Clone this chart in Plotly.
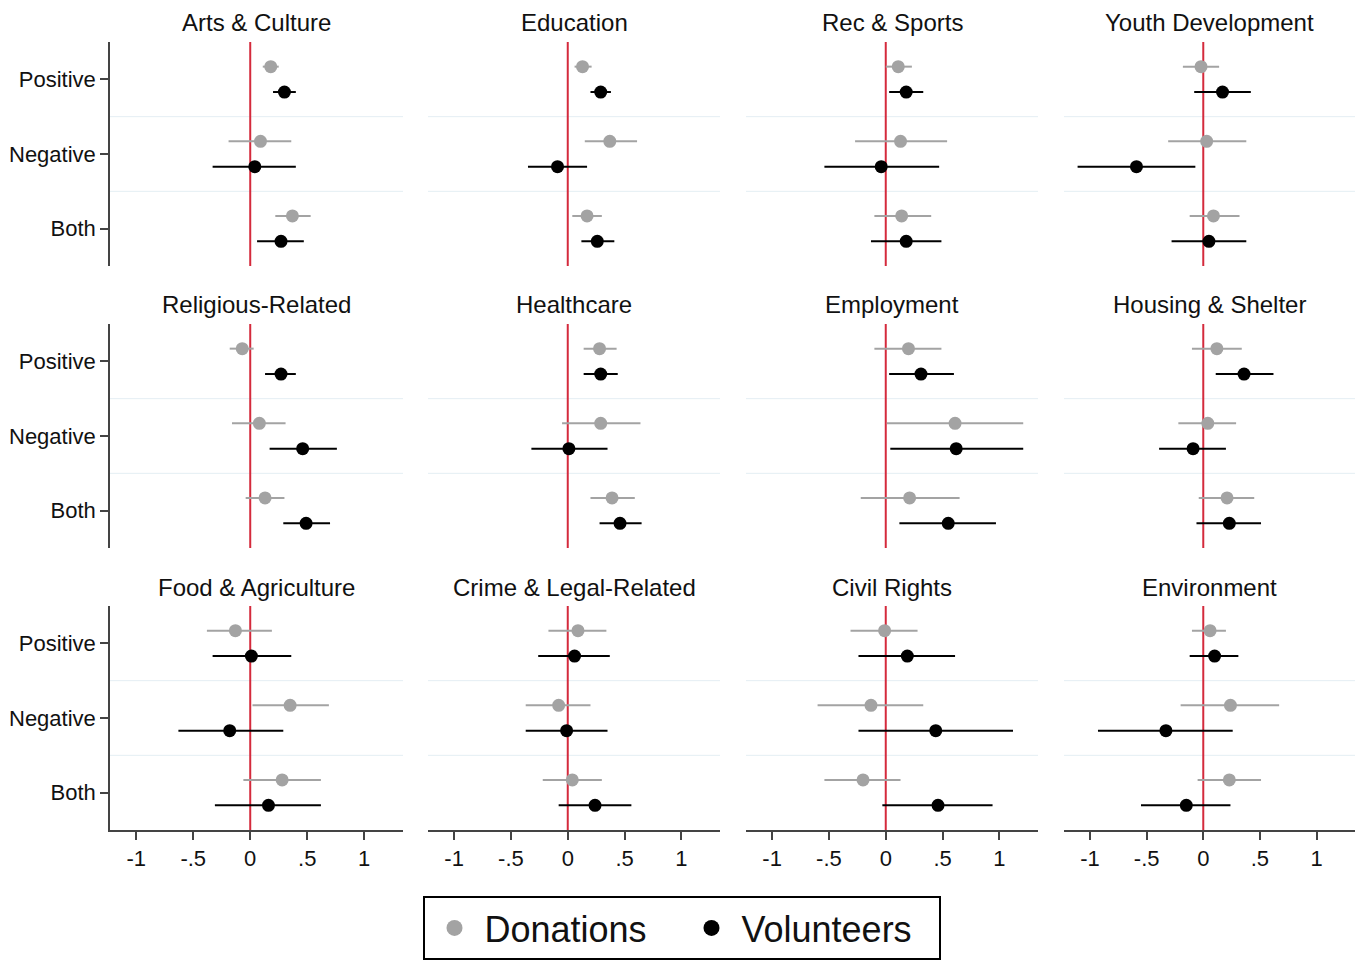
import plotly.graph_objects as go

panels = ["Arts & Culture", "Education", "Rec & Sports", "Youth Development",
          "Religious-Related", "Healthcare", "Employment", "Housing & Shelter",
          "Food & Agriculture", "Crime & Legal-Related", "Civil Rights", "Environment"]
groups = ["Positive", "Negative", "Both"]

don_est = [[0.18, 0.09, 0.37], [0.13, 0.37, 0.17], [0.11, 0.13, 0.14], [-0.02, 0.03, 0.09],
           [-0.07, 0.08, 0.13], [0.28, 0.29, 0.39], [0.20, 0.61, 0.21], [0.12, 0.04, 0.21],
           [-0.13, 0.35, 0.28], [0.09, -0.08, 0.04], [-0.01, -0.13, -0.20], [0.06, 0.24, 0.23]]
don_lo = [[0.11, -0.19, 0.22], [0.06, 0.15, 0.04], [0.00, -0.27, -0.10], [-0.18, -0.31, -0.12],
          [-0.18, -0.16, -0.04], [0.14, -0.05, 0.20], [-0.10, 0.01, -0.22], [-0.10, -0.22, -0.04],
          [-0.38, 0.02, -0.06], [-0.17, -0.37, -0.22], [-0.31, -0.60, -0.54], [-0.10, -0.20, -0.05]]
don_hi = [[0.25, 0.36, 0.53], [0.21, 0.61, 0.30], [0.23, 0.54, 0.40], [0.14, 0.38, 0.32],
          [0.03, 0.31, 0.30], [0.43, 0.64, 0.59], [0.49, 1.21, 0.65], [0.34, 0.29, 0.45],
          [0.19, 0.69, 0.62], [0.34, 0.20, 0.30], [0.28, 0.33, 0.13], [0.20, 0.67, 0.51]]
vol_est = [[0.30, 0.04, 0.27], [0.29, -0.09, 0.26], [0.18, -0.04, 0.18], [0.17, -0.59, 0.05],
           [0.27, 0.46, 0.49], [0.29, 0.01, 0.46], [0.31, 0.62, 0.55], [0.36, -0.09, 0.23],
           [0.01, -0.18, 0.16], [0.06, -0.01, 0.24], [0.19, 0.44, 0.46], [0.10, -0.33, -0.15]]
vol_lo = [[0.20, -0.33, 0.06], [0.20, -0.35, 0.12], [0.03, -0.54, -0.13], [-0.08, -1.11, -0.28],
          [0.13, 0.17, 0.29], [0.14, -0.32, 0.28], [0.03, 0.04, 0.12], [0.11, -0.39, -0.06],
          [-0.33, -0.63, -0.31], [-0.26, -0.37, -0.08], [-0.24, -0.24, -0.03], [-0.12, -0.93, -0.55]]
vol_hi = [[0.40, 0.40, 0.47], [0.38, 0.17, 0.41], [0.33, 0.47, 0.49], [0.42, -0.07, 0.38],
          [0.40, 0.76, 0.70], [0.44, 0.35, 0.65], [0.60, 1.21, 0.97], [0.62, 0.20, 0.51],
          [0.36, 0.29, 0.62], [0.37, 0.35, 0.56], [0.61, 1.12, 0.94], [0.31, 0.26, 0.24]]

x_tickvals = [-1, -0.5, 0, 0.5, 1]
x_ticktext = ["-1", "-.5", "0", ".5", "1"]

W, H = 1363, 960
col_px = [(110, 403), (428, 720), (746, 1038), (1064, 1355)]
row_px = [(42, 266), (324, 548), (606, 830)]
OFF = 0.17
GRAY = "#a3a3a3"
FONT = "Liberation Sans, Arial, sans-serif"

fig = go.Figure()
layout = {}
annotations = []
shapes = []

for i, name in enumerate(panels):
    r, c = divmod(i, 4)
    n = i + 1
    xa = "x" if n == 1 else f"x{n}"
    ya = "y" if n == 1 else f"y{n}"
    xkey = "xaxis" if n == 1 else f"xaxis{n}"
    ykey = "yaxis" if n == 1 else f"yaxis{n}"
    x0, x1 = col_px[c]
    y0, y1 = row_px[r]
    bottom = (r == 2)
    left = (c == 0)
    layout[xkey] = dict(domain=[x0 / W, x1 / W], anchor=ya, range=[-1.23, 1.34],
                        showgrid=False, zeroline=False,
                        showline=bottom, linecolor="#444", linewidth=1.5,
                        ticks="outside" if bottom else "", ticklen=8, tickwidth=1.5, tickcolor="#444",
                        showticklabels=bottom, tickvals=x_tickvals, ticktext=x_ticktext,
                        tickfont=dict(size=22, color="#111", family=FONT))
    layout[ykey] = dict(domain=[1 - y1 / H, 1 - y0 / H], anchor=xa, range=[2.5, -0.5],
                        showgrid=False, zeroline=False,
                        showline=left, linecolor="#444", linewidth=1.5,
                        ticks="outside" if left else "", ticklen=8, tickwidth=1.5, tickcolor="#444",
                        showticklabels=left, tickvals=[0, 1, 2], ticktext=groups,
                        tickfont=dict(size=22, color="#111", family=FONT))
    for b in (0.5, 1.5):
        shapes.append(dict(type="line", xref=f"{xa} domain", yref=ya, x0=0, x1=1, y0=b, y1=b,
                           line=dict(color="#e4eef3", width=1), layer="below"))
    shapes.append(dict(type="line", xref=xa, yref=f"{ya} domain", x0=0, x1=0, y0=0, y1=1,
                       line=dict(color="#d42a3c", width=2), layer="below"))
    annotations.append(dict(text=name, xref="paper", yref="paper",
                            x=(x0 + x1) / 2 / W, y=1 - (y0 - 19) / H,
                            xanchor="center", yanchor="middle", showarrow=False,
                            font=dict(size=24, color="#111", family=FONT)))

    yd = [k - OFF for k in range(3)]
    yv = [k + OFF for k in range(3)]
    fig.add_trace(go.Scatter(
        x=don_est[i], y=yd, xaxis=xa, yaxis=ya, mode="markers", showlegend=False,
        marker=dict(color=GRAY, size=13),
        error_x=dict(type="data", symmetric=False,
                     array=[h - e for h, e in zip(don_hi[i], don_est[i])],
                     arrayminus=[e - l for e, l in zip(don_est[i], don_lo[i])],
                     color=GRAY, thickness=2, width=0)))
    fig.add_trace(go.Scatter(
        x=vol_est[i], y=yv, xaxis=xa, yaxis=ya, mode="markers", showlegend=False,
        marker=dict(color="black", size=13),
        error_x=dict(type="data", symmetric=False,
                     array=[h - e for h, e in zip(vol_hi[i], vol_est[i])],
                     arrayminus=[e - l for e, l in zip(vol_est[i], vol_lo[i])],
                     color="black", thickness=2, width=0)))

fig.add_trace(go.Scatter(x=[None], y=[None], mode="markers", name="Donations",
                         marker=dict(color=GRAY, size=20)))
fig.add_trace(go.Scatter(x=[None], y=[None], mode="markers", name="Volunteers",
                         marker=dict(color="black", size=20)))

fig.update_layout(**layout)
fig.update_layout(
    width=W, height=H, margin=dict(l=0, r=0, t=0, b=0),
    paper_bgcolor="white", plot_bgcolor="white",
    annotations=annotations, shapes=shapes,
    font=dict(family=FONT, color="#111"),
    legend=dict(orientation="h", x=0.5, xanchor="center", y=1 - 896 / H, yanchor="top",
                font=dict(size=36, color="#111", family=FONT),
                bordercolor="black", borderwidth=2, bgcolor="white",
                itemsizing="trace", itemwidth=50, entrywidth=192),
)

fig.write_html("out.html", config={"displayModeBar": False},
               post_script="document.body.style.margin='0';document.body.style.overflow='hidden';")
